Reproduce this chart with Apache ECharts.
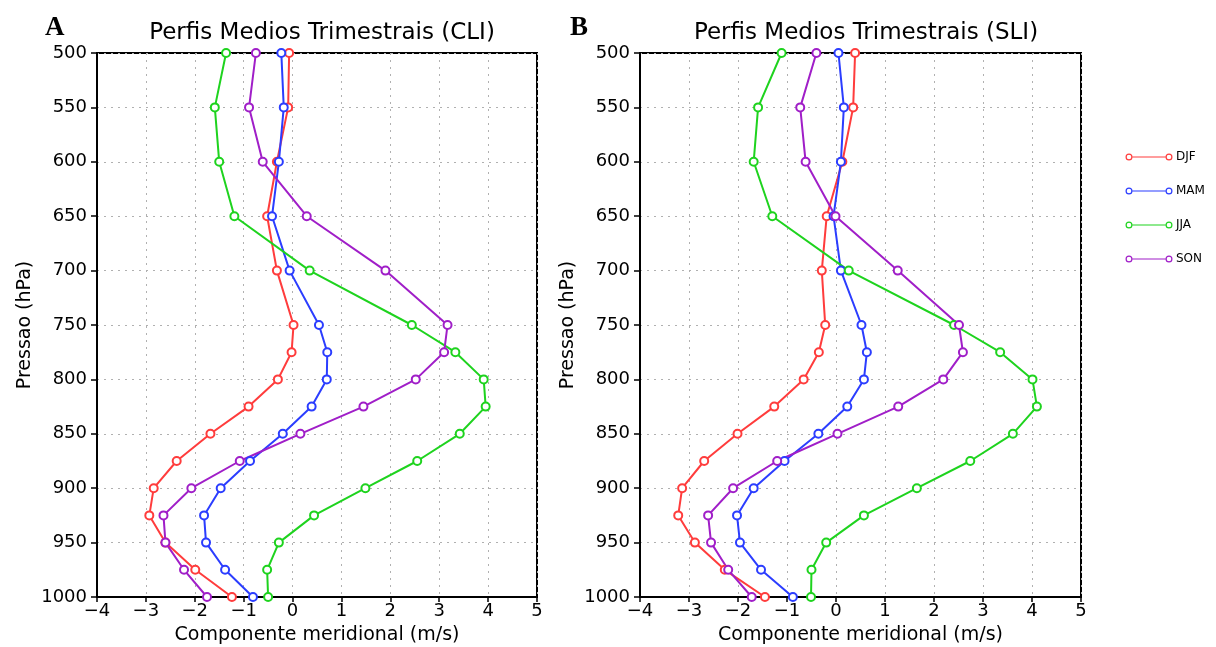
<!DOCTYPE html>
<html><head><meta charset="utf-8">
<script src="https://cdn.jsdelivr.net/npm/echarts@6/dist/echarts.min.js"></script>
<style>html,body{margin:0;padding:0;background:#fff}#c{width:1216px;height:647px}</style>
</head><body><div id="c"></div>
<script>
const levels = [500,550,600,650,700,750,775,800,825,850,875,900,925,950,975,1000];
const seasons = ['DJF','MAM','JJA','SON'];
const xTicks = [-4,-3,-2,-1,0,1,2,3,4,5];
// Panel A (CLI)
const djfA = [-0.07,-0.09,-0.32,-0.52,-0.32,0.02,-0.02,-0.30,-0.90,-1.68,-2.37,-2.84,-2.93,-2.60,-1.99,-1.24];
const mamA = [-0.23,-0.18,-0.28,-0.42,-0.06,0.54,0.71,0.70,0.39,-0.20,-0.87,-1.47,-1.81,-1.77,-1.38,-0.81];
const jjaA = [-1.36,-1.59,-1.50,-1.19,0.35,2.44,3.33,3.91,3.95,3.42,2.55,1.49,0.44,-0.28,-0.52,-0.50];
const sonA = [-0.75,-0.89,-0.61,0.29,1.90,3.17,3.10,2.52,1.45,0.16,-1.08,-2.07,-2.64,-2.60,-2.22,-1.75];
// Panel B (SLI)
const djfB = [0.39,0.35,0.13,-0.19,-0.29,-0.22,-0.35,-0.66,-1.26,-2.01,-2.69,-3.14,-3.22,-2.88,-2.27,-1.45];
const mamB = [0.05,0.16,0.10,-0.05,0.10,0.52,0.63,0.57,0.23,-0.36,-1.05,-1.68,-2.02,-1.96,-1.53,-0.88];
const jjaB = [-1.11,-1.59,-1.68,-1.30,0.26,2.41,3.35,4.01,4.10,3.61,2.74,1.65,0.57,-0.20,-0.50,-0.51];
const sonB = [-0.40,-0.73,-0.62,-0.01,1.26,2.51,2.59,2.19,1.27,0.03,-1.20,-2.10,-2.61,-2.55,-2.20,-1.72];

const colors = {DJF:'#ff3c3c', MAM:'#2b3dff', JJA:'#1ed31e', SON:'#a01ec8'};
const font = 'DejaVu Sans';
const panelA = {DJF:djfA, MAM:mamA, JJA:jjaA, SON:sonA};
const panelB = {DJF:djfB, MAM:mamB, JJA:jjaB, SON:sonB};

function mkX(gi){
  return {gridIndex:gi, type:'value', min:-4, max:5, interval:1,
    name:'Componente meridional (m/s)', nameLocation:'middle', nameGap:29,
    nameTextStyle:{fontFamily:font, fontSize:19, color:'#000'},
    axisLine:{show:true, onZero:false, lineStyle:{color:'#000', width:2}},
    axisTick:{show:true, inside:false, length:5, lineStyle:{color:'#000', width:1.5}},
    axisLabel:{fontFamily:font, fontSize:18, color:'#000', margin:5,
      formatter:v=>String(v).replace('-','\u2212')},
    splitLine:{show:true, lineStyle:{color:'#b0b0b0', width:1, type:[2,5]}}};
}
function mkY(gi){
  return {gridIndex:gi, type:'value', inverse:true, min:500, max:1000, interval:50,
    name:'Pressao (hPa)', nameLocation:'middle', nameGap:62,
    nameTextStyle:{fontFamily:font, fontSize:19, color:'#000'},
    axisLine:{show:true, onZero:false, lineStyle:{color:'#000', width:2}},
    axisTick:{show:true, inside:false, length:6, lineStyle:{color:'#000', width:1.5}},
    axisLabel:{fontFamily:font, fontSize:18, color:'#000', margin:10, formatter:v=>String(v)},
    splitLine:{show:true, lineStyle:{color:'#b0b0b0', width:1, type:[2,5]}}};
}
const series = [];
[panelA, panelB].forEach((p, gi)=>{
  seasons.forEach(s=>{
    series.push({name:s, type:'line', xAxisIndex:gi, yAxisIndex:gi,
      data: p[s].map((v,i)=>[v, levels[i]]),
      symbol:'emptyCircle', symbolSize:8,
      lineStyle:{color:colors[s], width:2},
      itemStyle:{color:colors[s], borderColor:colors[s], borderWidth:1.6},
      emphasis:{disabled:true}, animation:false});
  });
});
const ring = (cx)=>`M${cx-3.5},4 A3.5,3.5 0 1,0 ${cx+3.5},4 A3.5,3.5 0 1,0 ${cx-3.5},4 Z M${cx-2.3},4 A2.3,2.3 0 1,1 ${cx+2.3},4 A2.3,2.3 0 1,1 ${cx-2.3},4 Z`;
const iconPath = 'path://' + ring(4) + ' M7.5,3.4 L40.5,3.4 L40.5,4.6 L7.5,4.6 Z ' + ring(44) + ' M0,0 L0.01,0 Z M48,8 L47.99,8 Z';

const chart = echarts.init(document.getElementById('c'), null, {renderer:'canvas'});
chart.setOption({
  backgroundColor:'#fff',
  animation:false,
  title:[
    {text:'Perfis Medios Trimestrais (CLI)', left:317, top:17, textAlign:'center',
     textStyle:{fontFamily:font, fontSize:23, fontWeight:'normal', color:'#000'}},
    {text:'Perfis Medios Trimestrais (SLI)', left:861, top:17, textAlign:'center',
     textStyle:{fontFamily:font, fontSize:23, fontWeight:'normal', color:'#000'}},
    {text:'A', left:40, top:10, textStyle:{fontFamily:'Liberation Serif', fontSize:27, fontWeight:'bold', color:'#000'}},
    {text:'B', left:565, top:10, textStyle:{fontFamily:'Liberation Serif', fontSize:27, fontWeight:'bold', color:'#000'}}
  ],
  legend:{orient:'vertical', left:1120, top:146, itemWidth:48, itemHeight:8, itemGap:22,
    icon:iconPath,
    data: seasons.map(s=>({name:s, itemStyle:{color:colors[s], borderWidth:0}})),
    textStyle:{fontFamily:font, fontSize:12, color:'#000', padding:[0,0,0,-2]},
    selectedMode:false},
  grid:[
    {left:97, top:53, width:440, height:544, show:true, borderColor:'#000', borderWidth:2, backgroundColor:'transparent', containLabel:false, outerBoundsMode:'none'},
    {left:640, top:53, width:441, height:544, show:true, borderColor:'#000', borderWidth:2, backgroundColor:'transparent', containLabel:false, outerBoundsMode:'none'}
  ],
  xAxis:[mkX(0), mkX(1)],
  yAxis:[mkY(0), mkY(1)],
  series: series
});
</script></body></html>
